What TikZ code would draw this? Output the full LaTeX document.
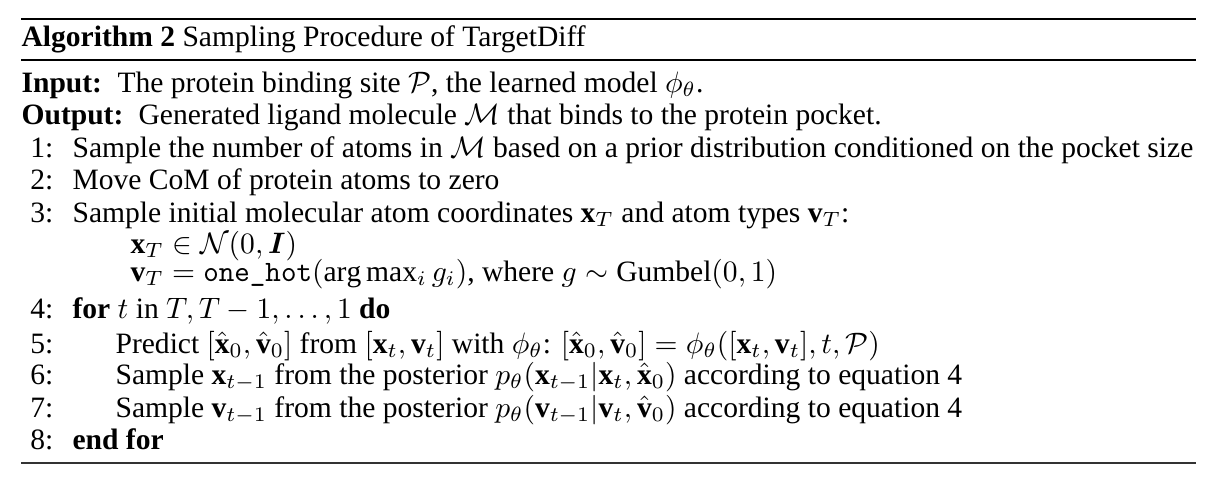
\documentclass[tikz,border=0pt]{standalone}
\usepackage{amsmath,amssymb}
\usepackage{fontspec}
\setmainfont{Liberation Serif}
\begin{document}
\begin{tikzpicture}[x=0.3383pt,y=-0.3383pt,
  txt/.style={anchor=base west, inner sep=0pt, font=\fontsize{10}{12}\selectfont},
  num/.style={anchor=base east, inner sep=0pt, font=\fontsize{10}{12}\selectfont},
  heavyrule/.style={line width=0.8pt},
  lightrule/.style={line width=0.4pt}]
\useasboundingbox (0,0) rectangle (1218,484);
\coordinate (tl) at (21,19);  \coordinate (tr) at (1196,19);
\coordinate (ml) at (21,60);  \coordinate (mr) at (1196,60);
\coordinate (bl) at (21,463); \coordinate (br) at (1196,463);
\draw[heavyrule] (tl) -- (tr);
\draw[lightrule] (ml) -- (mr);
\draw[lightrule, black!80] (bl) -- (br);
\node[txt] (title) at (21,46) {\textbf{Algorithm 2} Sampling Procedure of TargetDiff};
\node[txt] (inlab) at (21,92) {\textbf{Input:}};
\node[txt] (intxt) at (117,92) {The protein binding site $\mathcal{P}$, the learned model $\phi_\theta$.};
\node[txt] (outlab) at (21,124) {\textbf{Output:}};
\node[txt] (outtxt) at (138,124) {Generated ligand molecule $\mathcal{M}$ that binds to the protein pocket.};
\node[num] (n1) at (54,157) {1:};
\node[txt] (l1) at (72,157) {Sample the number of atoms in $\mathcal{M}$ based on a prior distribution conditioned on the pocket size};
\node[num] (n2) at (54,189) {2:};
\node[txt] (l2) at (72,189) {Move CoM of protein atoms to zero};
\node[num] (n3) at (54,222) {3:};
\node[txt] (l3) at (72,222) {Sample initial molecular atom coordinates $\mathbf{x}_T$ and atom types $\mathbf{v}_T$:};
\node[txt] (l3a) at (130,253) {$\mathbf{x}_T \in \mathcal{N}(0, \boldsymbol{I})$};
\node[txt] (l3b) at (130,281) {$\mathbf{v}_T = \texttt{one\_hot}(\arg\max_i g_i)$, where $g \sim \text{Gumbel}(0,1)$};
\node[num] (n4) at (54,318) {4:};
\node[txt] (l4) at (72,318) {\textbf{for} $t$ in $T, T-1, \ldots, 1$ \textbf{do}};
\node[num] (n5) at (54,353) {5:};
\node[txt] (l5) at (115,353) {Predict $[\hat{\mathbf{x}}_0, \hat{\mathbf{v}}_0]$ from $[\mathbf{x}_t, \mathbf{v}_t]$ with $\phi_\theta$: $[\hat{\mathbf{x}}_0, \hat{\mathbf{v}}_0] = \phi_\theta([\mathbf{x}_t, \mathbf{v}_t], t, \mathcal{P})$};
\node[num] (n6) at (54,384) {6:};
\node[txt] (l6) at (115,384) {Sample $\mathbf{x}_{t-1}$ from the posterior $p_\theta(\mathbf{x}_{t-1}|\mathbf{x}_t, \hat{\mathbf{x}}_0)$ according to equation 4};
\node[num] (n7) at (54,417) {7:};
\node[txt] (l7) at (115,417) {Sample $\mathbf{v}_{t-1}$ from the posterior $p_\theta(\mathbf{v}_{t-1}|\mathbf{v}_t, \hat{\mathbf{v}}_0)$ according to equation 4};
\node[num] (n8) at (54,449) {8:};
\node[txt] (l8) at (72,449) {\textbf{end for}};
\end{tikzpicture}
\end{document}
